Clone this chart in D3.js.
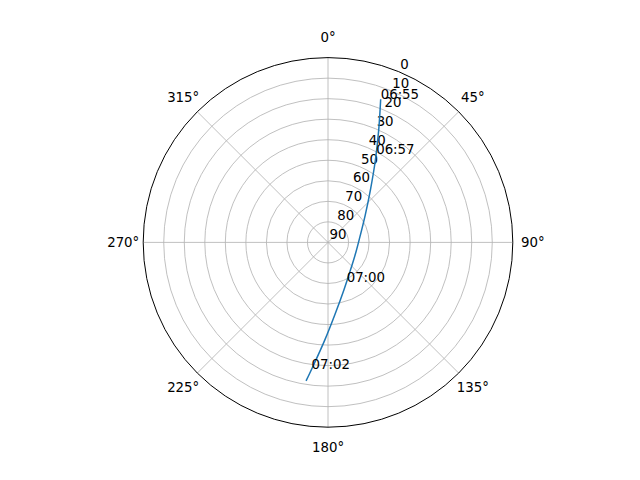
<!DOCTYPE html>
<html>
<head>
<meta charset="utf-8">
<script src="https://cdn.jsdelivr.net/npm/d3@7"></script>
<style>
  html, body { margin: 0; padding: 0; background: #fff; }
  svg text { font-family: "DejaVu Sans", sans-serif; font-size: 13.33px; fill: #000; }
</style>
</head>
<body>
<svg id="chart" width="640" height="480"></svg>
<script>
// satellite pass: azimuth (deg, clockwise from north) and elevation (deg)
const pathAzimuth   = [20.2, 24.3, 29.9, 39.0, 53.7, 85.6, 109.0, 133.3, 161.5, 174.7, 181.9, 186.7, 189.0];
const pathElevation = [15.7, 30.0, 43.7, 57.2, 67.5, 74.8, 75.6, 73.9, 65.6, 54.5, 42.4, 29.9, 21.7];

// time annotations
const labelTimes     = ["06:55", "06:57", "07:00", "07:02"];
const labelAzimuth   = [20.2, 28.6, 154.6, 187.4];
const labelElevation = [15.7, 41.0, 68.8, 27.6];

const thetaTicks = [0, 45, 90, 135, 180, 225, 270, 315];
const rTicks = [0, 10, 20, 30, 40, 50, 60, 70, 80, 90];

const cx = 328, cy = 242.4, R = 184.8;
const svg = d3.select("#chart");
const g = svg.append("g").attr("transform", `translate(${cx},${cy})`);

// elevation 90 at centre, 0 at the rim
const r = d3.scaleLinear().domain([90, 0]).range([0, R]);
const rad = d => d * Math.PI / 180;
const px = (az, el) => [r(el) * Math.sin(rad(az)), -r(el) * Math.cos(rad(az))];

// grid rings
g.selectAll(".ring")
  .data(rTicks.filter(d => d > 0 && d < 90))
  .enter().append("circle")
  .attr("r", d => r(d))
  .attr("fill", "none")
  .attr("stroke", "#b0b0b0")
  .attr("stroke-width", 0.8);

// spokes
g.selectAll(".spoke")
  .data(thetaTicks)
  .enter().append("line")
  .attr("x1", 0).attr("y1", 0)
  .attr("x2", d => px(d, 0)[0])
  .attr("y2", d => px(d, 0)[1])
  .attr("stroke", "#b0b0b0")
  .attr("stroke-width", 0.8);

// outer spine
g.append("circle")
  .attr("r", R)
  .attr("fill", "none")
  .attr("stroke", "#000")
  .attr("stroke-width", 1);

// theta labels
g.selectAll(".tlabel")
  .data(thetaTicks)
  .enter().append("text")
  .attr("x", d => (R + 20) * Math.sin(rad(d)))
  .attr("y", d => -(R + 20) * Math.cos(rad(d)))
  .attr("text-anchor", "middle")
  .attr("dominant-baseline", "central")
  .text(d => d + "°");

// radial labels along 22.5°
g.selectAll(".rlabel")
  .data(rTicks)
  .enter().append("text")
  .attr("x", d => px(22.5, d)[0] + 1.5)
  .attr("y", d => px(22.5, d)[1] - 3)
  .text(d => d);

// the pass
const pts = pathAzimuth.map((a, i) => [rad(a), r(pathElevation[i])]);
const line = d3.lineRadial()
  .angle(d => d[0])
  .radius(d => d[1])
  .curve(d3.curveCatmullRom);

g.append("path")
  .attr("d", line(pts))
  .attr("fill", "none")
  .attr("stroke", "#1f77b4")
  .attr("stroke-width", 1.5);

// time labels
g.selectAll(".time")
  .data(labelTimes)
  .enter().append("text")
  .attr("x", (d, i) => px(labelAzimuth[i], labelElevation[i])[0])
  .attr("y", (d, i) => px(labelAzimuth[i], labelElevation[i])[1])
  .text(d => d);
</script>
</body>
</html>
